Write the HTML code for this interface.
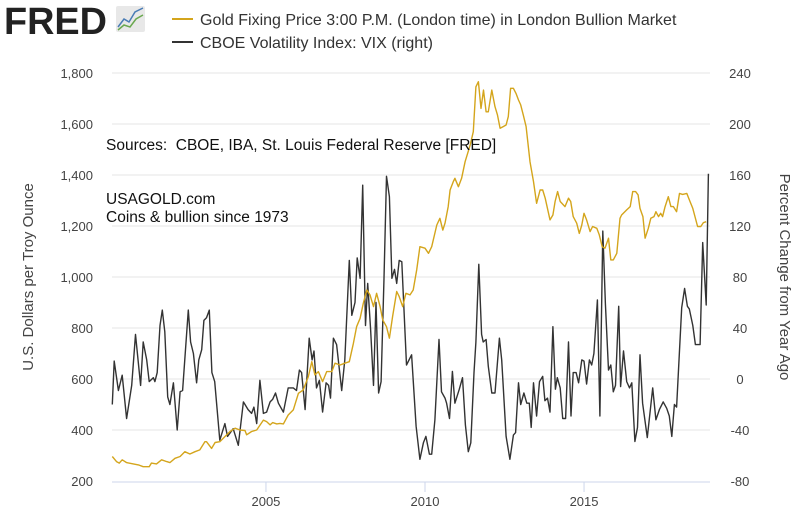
<!DOCTYPE html>
<html><head><meta charset="utf-8"><style>
body{margin:0;background:#fff;width:800px;height:515px;overflow:hidden;font-family:"Liberation Sans",sans-serif}
svg{display:block}
</style></head><body>
<svg id="chart" width="800" height="515">
<g>
<text x="4" y="34" font-size="38" font-weight="bold" fill="#222" textLength="103" lengthAdjust="spacingAndGlyphs" font-family="Liberation Sans, sans-serif">FRED</text>
<rect x="116" y="6" width="29" height="26" fill="#e8e8e8" rx="2"/>
<polyline points="118,27 124,19 129,22 135,12 143,8" fill="none" stroke="#4a7cb5" stroke-width="1.5"/>
<polyline points="118,30 124,25 130,27 136,19 143,15" fill="none" stroke="#6aa84f" stroke-width="1.5"/>
</g>
<g>
<line x1="172" y1="19" x2="193" y2="19" stroke="#d4a51c" stroke-width="2"/>
<text x="200" y="25" font-size="16" fill="#333">Gold Fixing Price 3:00 P.M. (London time) in London Bullion Market</text>
<line x1="172" y1="42" x2="193" y2="42" stroke="#333" stroke-width="2"/>
<text x="200" y="48" font-size="16" fill="#333">CBOE Volatility Index: VIX (right)</text>
</g>
<g id="grid"></g>
<g id="axes"></g>
<g id="series"></g>
<text x="106" y="150" font-size="15.5" fill="#111">Sources:&#160; CBOE, IBA, St. Louis Federal Reserve [FRED]</text>
<text x="106" y="204" font-size="15.5" fill="#111">USAGOLD.com</text>
<text x="106" y="222" font-size="15.5" fill="#111">Coins &amp; bullion since 1973</text>
<text transform="translate(33,277) rotate(-90)" text-anchor="middle" font-size="15" fill="#444">U.S. Dollars per Troy Ounce</text>
<text transform="translate(780,277) rotate(90)" text-anchor="middle" font-size="15" fill="#444">Percent Change from Year Ago</text>
</svg>
<script>
const leftTicks=[200,400,600,800,1000,1200,1400,1600,1800];
const leftTickLabels=["200","400","600","800","1,000","1,200","1,400","1,600","1,800"];
const rightTicks=[-80,-40,0,40,80,120,160,200,240];
const xTicks=[2005,2010,2015];
const goldDates=[2000.17,2000.30,2000.39,2000.48,2000.62,2000.83,2000.99,2001.14,2001.33,2001.40,2001.56,2001.72,2001.88,2001.98,2002.14,2002.30,2002.45,2002.61,2002.77,2002.92,2003.08,2003.13,2003.29,2003.40,2003.55,2003.71,2003.87,2004.03,2004.18,2004.34,2004.39,2004.55,2004.71,2004.92,2005.02,2005.13,2005.21,2005.34,2005.44,2005.55,2005.70,2005.86,2006.02,2006.17,2006.33,2006.44,2006.54,2006.65,2006.78,2006.91,2007.07,2007.17,2007.33,2007.48,2007.62,2007.75,2007.85,2007.96,2008.06,2008.17,2008.27,2008.38,2008.48,2008.59,2008.67,2008.79,2008.88,2008.98,2009.11,2009.19,2009.30,2009.40,2009.53,2009.63,2009.74,2009.84,2010.00,2010.11,2010.21,2010.37,2010.47,2010.56,2010.63,2010.73,2010.79,2010.89,2010.94,2011.05,2011.15,2011.26,2011.42,2011.52,2011.60,2011.68,2011.76,2011.84,2011.92,2011.99,2012.10,2012.20,2012.28,2012.36,2012.46,2012.55,2012.62,2012.69,2012.78,2012.86,2012.94,2013.01,2013.09,2013.18,2013.30,2013.41,2013.51,2013.62,2013.70,2013.78,2013.93,2014.02,2014.09,2014.17,2014.25,2014.40,2014.51,2014.58,2014.66,2014.77,2014.85,2014.93,2015.00,2015.08,2015.19,2015.27,2015.40,2015.48,2015.57,2015.66,2015.77,2015.84,2015.92,2016.03,2016.13,2016.18,2016.34,2016.45,2016.53,2016.62,2016.70,2016.76,2016.85,2016.92,2017.02,2017.10,2017.20,2017.26,2017.34,2017.41,2017.47,2017.55,2017.65,2017.73,2017.81,2017.91,2018.00,2018.10,2018.23,2018.33,2018.42,2018.57,2018.67,2018.75,2018.84];
const goldValues=[296,276,270,283,272,267,263,256,256,270,267,283,276,272,289,296,315,306,315,322,354,354,328,351,354,374,394,407,400,398,381,394,400,439,433,420,429,424,426,424,459,479,544,557,609,668,616,629,590,629,629,662,655,662,668,740,805,838,897,949,930,884,936,884,832,805,760,845,943,923,884,936,930,949,1028,1119,1113,1093,1119,1204,1230,1184,1211,1276,1341,1374,1387,1354,1387,1452,1518,1570,1746,1766,1661,1733,1648,1648,1733,1668,1635,1583,1590,1596,1629,1740,1740,1720,1694,1675,1635,1590,1452,1374,1289,1341,1341,1309,1224,1243,1296,1335,1296,1276,1309,1296,1237,1211,1171,1204,1250,1224,1178,1198,1191,1165,1119,1113,1152,1067,1067,1093,1230,1243,1263,1276,1335,1335,1322,1269,1237,1152,1191,1230,1237,1256,1237,1250,1237,1276,1315,1276,1276,1256,1328,1324,1328,1296,1269,1198,1198,1213,1217];
const vixDates=[2000.17,2000.23,2000.36,2000.48,2000.62,2000.78,2000.90,2001.06,2001.14,2001.25,2001.33,2001.46,2001.51,2001.58,2001.67,2001.74,2001.82,2001.91,2001.98,2002.09,2002.21,2002.30,2002.38,2002.56,2002.63,2002.72,2002.82,2002.89,2002.98,2003.05,2003.13,2003.22,2003.30,2003.39,2003.55,2003.71,2003.79,2003.97,2004.13,2004.29,2004.44,2004.55,2004.62,2004.71,2004.81,2004.92,2005.02,2005.13,2005.21,2005.30,2005.39,2005.55,2005.70,2005.86,2005.96,2006.05,2006.12,2006.23,2006.36,2006.45,2006.51,2006.59,2006.68,2006.78,2006.89,2006.97,2007.03,2007.12,2007.22,2007.38,2007.48,2007.62,2007.70,2007.80,2007.87,2007.96,2008.04,2008.13,2008.20,2008.29,2008.38,2008.46,2008.54,2008.62,2008.71,2008.79,2008.88,2008.96,2009.04,2009.11,2009.19,2009.27,2009.42,2009.58,2009.72,2009.84,2009.95,2010.03,2010.14,2010.21,2010.31,2010.44,2010.52,2010.63,2010.68,2010.77,2010.86,2010.94,2011.08,2011.18,2011.27,2011.36,2011.44,2011.54,2011.60,2011.69,2011.78,2011.83,2011.92,2011.99,2012.10,2012.20,2012.34,2012.41,2012.55,2012.67,2012.78,2012.85,2012.94,2013.01,2013.11,2013.20,2013.28,2013.34,2013.41,2013.51,2013.60,2013.70,2013.77,2013.85,2013.93,2014.02,2014.10,2014.16,2014.25,2014.33,2014.42,2014.51,2014.59,2014.66,2014.75,2014.83,2014.93,2015.00,2015.08,2015.17,2015.24,2015.31,2015.42,2015.50,2015.59,2015.67,2015.77,2015.84,2015.92,2015.99,2016.09,2016.15,2016.24,2016.34,2016.43,2016.50,2016.60,2016.68,2016.76,2016.84,2016.99,2017.16,2017.26,2017.37,2017.49,2017.60,2017.68,2017.76,2017.84,2017.91,2018.07,2018.16,2018.25,2018.31,2018.42,2018.50,2018.65,2018.73,2018.84,2018.91];
const vixValues=[-20,14,-9,3,-31,-5,35,-5,29,15,-2,1,-2,5,42,54,37,-14,-20,-3,-40,-10,-9,54,29,20,-3,15,23,46,48,54,5,-2,-48,-35,-45,-39,-52,-18,-24,-27,-22,-35,-1,-27,-26,-18,-16,-11,-19,-26,-7,-7,-9,7,5,-24,32,15,22,-7,-1,-26,-3,-5,-15,32,27,-9,15,93,50,60,95,79,152,42,75,39,-5,60,-11,-2,79,159,143,79,86,75,93,92,11,19,-37,-63,-50,-45,-59,-59,-32,31,-10,-15,-19,-31,6,-19,-8,1,-36,-57,-50,5,29,90,35,29,31,10,-11,-11,32,15,-45,-63,-44,-42,-3,-20,-11,-19,-19,-38,-3,-29,-2,2,-17,-15,-26,41,-8,1,-7,-31,-31,29,-29,5,5,-3,15,14,-4,15,11,20,62,-29,116,59,7,11,-10,-5,57,-6,22,-2,-7,-3,-49,-38,19,-19,-46,-7,-32,-24,-18,-23,-29,-45,-20,-22,56,71,57,55,42,27,27,107,58,161];

const NS="http://www.w3.org/2000/svg";
const X0=112,X1=710,Y0=481,Y1=73,D0=2000.16,D1=2018.96;
function xs(d){return X0+(d-D0)/(D1-D0)*(X1-X0);}
function yl(v){return Y0-(v-200)/(1800-200)*(Y0-Y1);}
function yr(v){return Y0-(v+80)/(240+80)*(Y0-Y1);}
function mk(tag,attrs,parent){const e=document.createElementNS(NS,tag);for(const k in attrs)e.setAttribute(k,attrs[k]);parent.appendChild(e);return e;}
const grid=document.getElementById('grid'),axes=document.getElementById('axes'),series=document.getElementById('series');
leftTicks.forEach((v,i)=>{
  if(v>200){const g=mk('line',{x1:X0,x2:X1,y1:yl(v),y2:yl(v),stroke:'#e6e6e6','stroke-width':1},grid);
  
  }
  const t=mk('text',{x:93,y:yl(v)+5,'text-anchor':'end','font-size':13,fill:'#444'},axes);t.textContent=leftTickLabels[i];
  
  
});
rightTicks.forEach(v=>{
  const t=mk('text',{x:740,y:yr(v)+5,'text-anchor':'middle','font-size':13,fill:'#444'},axes);t.textContent=String(v);
  
  
});
const ax=mk('line',{x1:X0,x2:X1,y1:482,y2:482,stroke:'#ccd6eb','stroke-width':1},axes);


xTicks.forEach(d=>{
  const tk=mk('line',{x1:xs(d),x2:xs(d),y1:482,y2:492,stroke:'#ccd6eb'},axes);
  
  
  const t=mk('text',{x:xs(d),y:506,'text-anchor':'middle','font-size':13,fill:'#444'},axes);t.textContent=String(d);
  
  
});
const vp=mk('polyline',{points:vixDates.map((d,i)=>xs(d).toFixed(1)+','+yr(vixValues[i]).toFixed(1)).join(' '),fill:'none',stroke:'#333','stroke-width':1.4,'stroke-linejoin':'round'},series);


const gp=mk('polyline',{points:goldDates.map((d,i)=>xs(d).toFixed(1)+','+yl(goldValues[i]).toFixed(1)).join(' '),fill:'none',stroke:'#d4a51c','stroke-width':1.4,'stroke-linejoin':'round'},series);


</script>
</body></html>
